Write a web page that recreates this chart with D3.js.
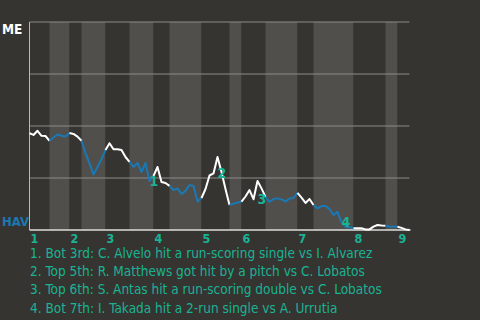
<!DOCTYPE html>
<html>
<head>
<meta charset="utf-8">
<script src="https://cdn.jsdelivr.net/npm/d3@7"></script>
<style>
  body { margin: 0; background: #363430; }
  svg { display: block; }
  text { font-family: "DejaVu Sans Condensed", "DejaVu Sans", sans-serif; }
</style>
</head>
<body>
<svg width="480" height="320"></svg>
<script>
// plays per half inning, top 1st .. top 9th
var halfPlays = [5, 5, 3, 6, 6, 6, 4, 8, 7, 3, 6, 8, 4, 10, 8, 3, 3];
var innings = ["1", "2", "3", "4", "5", "6", "7", "8", "9"];

// ME win probability after each play (0 = HAV wins, 1 = ME wins)
var winProb = [
  0.465, 0.457, 0.477, 0.453, 0.452, 0.429,
  0.445, 0.459, 0.453, 0.450, 0.466,
  0.462, 0.449, 0.429,
  0.370, 0.320, 0.267, 0.303, 0.341, 0.385,
  0.417, 0.388, 0.388, 0.385, 0.351, 0.328,
  0.303, 0.322, 0.279, 0.322, 0.236, 0.260,
  0.303, 0.231, 0.226, 0.212,
  0.192, 0.200, 0.173, 0.188, 0.216, 0.212, 0.137, 0.154,
  0.197, 0.262, 0.272, 0.351, 0.279, 0.197, 0.120,
  0.127, 0.132, 0.136,
  0.161, 0.192, 0.148, 0.236, 0.200, 0.159,
  0.135, 0.149, 0.152, 0.147, 0.137, 0.151, 0.154, 0.179,
  0.156, 0.130, 0.149, 0.120,
  0.104, 0.115, 0.115, 0.101, 0.072, 0.087, 0.038, 0.016, 0.013, 0.008,
  0.008, 0.008, 0.003, 0.003, 0.016, 0.024, 0.022, 0.021,
  0.016, 0.016, 0.016,
  0.010, 0.003, 0.000
];

var eventPlays = [30, 47, 57, 78];
var eventTexts = [
  "1. Bot 3rd: C. Alvelo hit a run-scoring single vs I. Alvarez",
  "2. Top 5th: R. Matthews got hit by a pitch vs C. Lobatos",
  "3. Top 6th: S. Antas hit a run-scoring double vs C. Lobatos",
  "4. Bot 7th: I. Takada hit a 2-run single vs A. Urrutia"
];

var teal = "#19b394", blue = "#1a78b4";

var svg = d3.select("svg");
var x = d3.scaleLinear().domain([0, winProb.length - 1]).range([29.5, 409.5]);
var y = d3.scaleLinear().domain([0, 1]).range([230, 22]);

// half inning ranges
var halves = [];
var s = 0;
halfPlays.forEach(function(n, i) {
  halves.push({start: s, end: s + n, top: i % 2 == 0, inning: Math.floor(i / 2)});
  s += n;
});

svg.append("g").selectAll("rect").data(halves).enter().append("rect")
    .attr("x", function(d) { return x(d.start); })
    .attr("width", function(d) { return x(d.end) - x(d.start); })
    .attr("y", y(1))
    .attr("height", y(0) - y(1))
    .attr("fill", function(d) { return d.top ? "#363430" : "#504f4c"; });

svg.append("g").selectAll("line").data([0.25, 0.5, 0.75, 1]).enter().append("line")
    .attr("x1", x(0)).attr("x2", x(winProb.length - 1))
    .attr("y1", function(d) { return y(d); }).attr("y2", function(d) { return y(d); })
    .attr("stroke", "#8c8b88").attr("stroke-width", 1);

svg.append("line").attr("x1", x(0)).attr("x2", x(0)).attr("y1", y(1)).attr("y2", y(0))
    .attr("stroke", "#b8b8b5").attr("stroke-width", 1);
svg.append("line").attr("x1", x(0)).attr("x2", x(winProb.length - 1) + 1).attr("y1", y(0)).attr("y2", y(0))
    .attr("stroke", "#dcdcda").attr("stroke-width", 1.5);

var line = d3.line()
    .x(function(d) { return x(d); })
    .y(function(d) { return y(winProb[d]); });

svg.append("g").selectAll("path").data(halves).enter().append("path")
    .attr("d", function(d) { return line(d3.range(d.start, d.end + 1)); })
    .attr("fill", "none")
    .attr("stroke", function(d) { return d.top ? "#ffffff" : blue; })
    .attr("stroke-width", 2)
    .attr("stroke-linejoin", "round");

// event markers, at the lower end of the swing
svg.append("g").selectAll("text").data(eventPlays).enter().append("text")
    .attr("x", function(d) { return x(d); })
    .attr("y", function(d) { return y(Math.min(winProb[d - 1], winProb[d])); })
    .attr("dominant-baseline", "central")
    .attr("fill", teal).attr("font-weight", "bold").attr("font-size", 14)
    .text(function(d, i) { return i + 1; });

// inning labels
svg.append("g").selectAll("text").data(halves.filter(function(d) { return d.top; })).enter().append("text")
    .attr("x", function(d) { return x(d.start) + 1; })
    .attr("y", 243)
    .attr("fill", teal).attr("font-weight", "bold").attr("font-size", 12.5)
    .text(function(d) { return innings[d.inning]; });

svg.append("text").attr("x", 2).attr("y", 34).attr("fill", "#ffffff")
    .attr("font-weight", "bold").attr("font-size", 13.5).text("ME");
svg.append("text").attr("x", 2).attr("y", 226).attr("fill", blue)
    .attr("font-weight", "bold").attr("font-size", 13).text("HAV");

svg.append("g").selectAll("text").data(eventTexts).enter().append("text")
    .attr("x", 30)
    .attr("y", function(d, i) { return 258 + i * 18.2; })
    .attr("fill", teal).attr("font-size", 13.5)
    .text(function(d) { return d; });
</script>
</body>
</html>
